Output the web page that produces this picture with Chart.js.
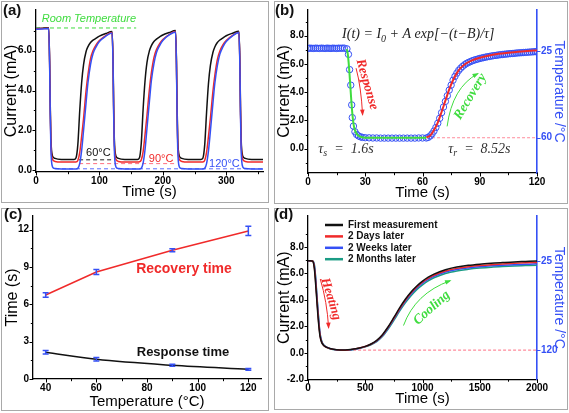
<!DOCTYPE html>
<html>
<head>
<meta charset="utf-8">
<title>Figure</title>
<script src="https://cdn.jsdelivr.net/npm/chart.js@4.4.1/dist/chart.umd.min.js"></script>
<style>
  html, body { margin: 0; padding: 0; background: #fff; }
  #fig { position: relative; width: 569px; height: 413px; overflow: hidden; }
  .frame { position: absolute; box-sizing: border-box; border: 1px solid #a9a9a9; }
  canvas { position: absolute; }
  .tag { position: absolute; font: bold 15px/15px "Liberation Sans", Arial, sans-serif; color: #111; }
</style>
</head>
<body>
<div id="fig">
  <div class="frame" style="left:1px;top:1px;width:268px;height:202px"></div>
  <div class="frame" style="left:274px;top:1px;width:294px;height:203px"></div>
  <div class="frame" style="left:1px;top:208px;width:268px;height:203px"></div>
  <div class="frame" style="left:274px;top:208px;width:294px;height:202px"></div>
  <canvas id="chartA" width="270" height="206" style="left:0;top:0"></canvas>
  <canvas id="chartB" width="297" height="206" style="left:272px;top:0"></canvas>
  <canvas id="chartC" width="270" height="207" style="left:0;top:206px"></canvas>
  <canvas id="chartD" width="297" height="207" style="left:272px;top:206px"></canvas>
  <div class="tag" style="left:3px;top:2px">(a)</div>
  <div class="tag" style="left:275px;top:2px">(b)</div>
  <div class="tag" style="left:4px;top:206px">(c)</div>
  <div class="tag" style="left:274px;top:206px">(d)</div>
</div>
<script>
// ---------- panel (a): three heating cycles ----------
const aTime = [0, 10, 20, 21.5, 22.5, 23.5, 24.5, 26, 30, 40, 50,
  60, 63, 66, 69, 72, 75, 79, 82, 86, 90, 95, 100, 110, 120,
  121.5, 122.5, 123.5, 124.5, 126, 130, 140, 150,
  160, 163, 166, 169, 172, 175, 179, 182, 186, 190, 195, 200, 210, 220,
  221.5, 222.5, 223.5, 224.5, 226, 230, 240, 250,
  260, 263, 266, 269, 272, 275, 279, 282, 286, 290, 295, 300, 310, 320,
  321.5, 322.5, 323.5, 324.5, 326, 330, 340, 350, 358];
const aI60 = [7.1, 7.12, 7.14, 5.5, 3.2, 1.6, 1.0, 0.72, 0.6, 0.55, 0.55,
  0.55, 0.62, 1.3, 3.0, 4.4, 5.3, 5.95, 6.2, 6.4, 6.52, 6.62, 6.72, 6.85, 6.95,
  5.5, 3.2, 1.6, 1.0, 0.72, 0.6, 0.55, 0.55,
  0.55, 0.62, 1.35, 3.1, 4.5, 5.4, 6.0, 6.25, 6.45, 6.57, 6.68, 6.78, 6.9, 7.0,
  5.5, 3.2, 1.6, 1.0, 0.72, 0.6, 0.55, 0.55,
  0.55, 0.6, 1.25, 2.9, 4.35, 5.25, 5.9, 6.18, 6.4, 6.53, 6.64, 6.74, 6.87, 6.97,
  5.5, 3.2, 1.6, 1.0, 0.72, 0.6, 0.55, 0.55, 0.55];
const aI90 = [7.08, 7.1, 7.12, 5.4, 3.0, 1.4, 0.8, 0.55, 0.45, 0.42, 0.42,
  0.42, 0.42, 0.5, 0.9, 1.7, 2.6, 4.0, 4.8, 5.6, 6.0, 6.3, 6.5, 6.75, 6.9,
  5.4, 3.0, 1.4, 0.8, 0.55, 0.45, 0.42, 0.42,
  0.42, 0.43, 0.52, 0.95, 1.8, 2.75, 4.1, 4.9, 5.65, 6.05, 6.35, 6.55, 6.8, 6.95,
  5.4, 3.0, 1.4, 0.8, 0.55, 0.45, 0.42, 0.42,
  0.42, 0.42, 0.5, 0.9, 1.7, 2.6, 3.95, 4.75, 5.55, 5.98, 6.3, 6.5, 6.76, 6.92,
  5.4, 3.0, 1.4, 0.8, 0.55, 0.45, 0.42, 0.42, 0.42];
const aI120 = [7.06, 7.08, 7.1, 5.3, 2.8, 1.1, 0.45, 0.18, 0.09, 0.07, 0.07,
  0.07, 0.07, 0.1, 0.35, 1.0, 2.0, 3.4, 4.4, 5.3, 5.85, 6.2, 6.45, 6.72, 6.88,
  5.3, 2.8, 1.1, 0.45, 0.18, 0.09, 0.07, 0.07,
  0.07, 0.07, 0.11, 0.38, 1.05, 2.1, 3.5, 4.5, 5.35, 5.9, 6.25, 6.5, 6.78, 6.93,
  5.3, 2.8, 1.1, 0.45, 0.18, 0.09, 0.07, 0.07,
  0.07, 0.07, 0.1, 0.34, 0.98, 1.95, 3.35, 4.35, 5.25, 5.82, 6.2, 6.45, 6.74, 6.9,
  5.3, 2.8, 1.1, 0.45, 0.18, 0.09, 0.07, 0.07, 0.07];
const aRoomT = [0, 158], aRoomI = [7.13, 7.13];
const a60T = [68, 123], a60I = [0.53, 0.53];
const a90T = [68, 221], a90I = [0.34, 0.34];
const a120T = [30, 358], a120I = [0.08, 0.08];
const aXMajor = [0, 100, 200, 300], aXLabels = ['0', '100', '200', '300'], aXMinor = [50, 150, 250, 350];
const aYMajor = [0, 2, 4, 6], aYLabels = ['0.0', '2.0', '4.0', '6.0'], aYMinor = [1, 3, 5, 7];

// ---------- panel (b): single cycle with fits ----------
const bCircT = [0, 1, 2, 3, 4, 5, 6, 7, 8, 9, 10, 11, 12, 13, 14, 15, 16, 17, 18, 19,
  20.4, 21.2, 21.8, 22.4, 22.9, 23.2, 23.8, 24.6, 25.5, 26.5, 27.5, 28.5,
  30, 32, 34, 36, 38, 40, 42, 44, 46, 48, 50, 52, 54, 56, 58, 60,
  62, 63, 64, 65, 66, 67, 68, 69, 70, 71, 72, 73, 74, 75, 76, 77, 78, 79, 80,
  81, 82, 83, 84, 85, 86, 87, 88, 89, 90, 91, 92, 93, 94, 95, 96, 97, 98, 99, 100,
  101, 102, 103, 104, 105, 106, 107, 108, 109, 110, 111, 112, 113, 114, 115, 116, 117, 118, 119, 120];
const bCircI = [7.1, 7.12, 7.11, 7.1, 7.12, 7.11, 7.1, 7.12, 7.11, 7.1, 7.12, 7.11, 7.1, 7.12, 7.11, 7.1, 7.12, 7.11, 7.12, 7.12,
  7.07, 6.68, 5.6, 4.5, 3.1, 2.2, 1.6, 1.2, 1.0, 0.9, 0.84, 0.8,
  0.78, 0.77, 0.76, 0.76, 0.75, 0.75, 0.75, 0.75, 0.75, 0.75, 0.75, 0.75, 0.75, 0.75, 0.76, 0.76,
  0.76, 0.8, 0.9, 1.05, 1.25, 1.5, 1.8, 2.15, 2.55, 2.95, 3.35, 3.75, 4.15, 4.5, 4.85, 5.12, 5.35, 5.55, 5.7,
  5.83, 5.94, 6.03, 6.1, 6.16, 6.22, 6.27, 6.31, 6.35, 6.39, 6.42, 6.45, 6.48, 6.51, 6.53, 6.56, 6.58, 6.6, 6.62, 6.64,
  6.66, 6.67, 6.69, 6.7, 6.72, 6.73, 6.74, 6.75, 6.77, 6.78, 6.79, 6.8, 6.81, 6.82, 6.83, 6.84, 6.85, 6.86, 6.87, 6.88];
const bFallT = [20.3, 20.8, 21.3, 21.8, 22.3, 22.8, 23.3, 23.8, 24.5, 25.5, 27, 29, 32, 40, 50, 62];
const bFallI = [7.05, 6.75, 6.1, 5.2, 4.2, 3.2, 2.4, 1.8, 1.35, 1.05, 0.88, 0.8, 0.78, 0.77, 0.77, 0.78];
const bRiseT = [62, 64, 66, 68, 70, 72, 74, 76, 78, 80, 83, 86, 90, 95, 100, 105, 110, 115, 120];
const bRiseI = [0.8, 0.92, 1.3, 1.85, 2.6, 3.4, 4.2, 4.85, 5.35, 5.72, 6.05, 6.25, 6.44, 6.6, 6.72, 6.8, 6.87, 6.92, 6.96];
const bTempT = [65, 120], bTemp = [60, 60];
const bXMajor = [0, 30, 60, 90, 120], bXLabels = ['0', '30', '60', '90', '120'], bXMinor = [15, 45, 75, 105];
const bYMajor = [0, 2, 4, 6, 8], bYLabels = ['0.0', '2.0', '4.0', '6.0', '8.0'], bYMinor = [-1, 1, 3, 5, 7, 9];
const bTMajor = [25, 60], bTLabels = ['25', '60'];

// ---------- panel (c): response / recovery time ----------
const cTemp = [40, 60, 90, 120];
const cRecovery = [6.75, 8.6, 10.35, 11.9], cRecoveryErr = [0.18, 0.2, 0.12, 0.37];
const cResponse = [2.15, 1.58, 1.1, 0.78], cResponseErr = [0.15, 0.14, 0.08, 0.07];
const cXMajor = [40, 60, 80, 100, 120], cXLabels = ['40', '60', '80', '100', '120'], cXMinor = [50, 70, 90, 110];
const cYMajor = [0, 3, 6, 9, 12], cYLabels = ['0', '3', '6', '9', '12'], cYMinor = [1.5, 4.5, 7.5, 10.5];

// ---------- panel (d): repeatability ----------
const dTime = [0, 20, 40, 55, 65, 75, 85, 95, 105, 120, 140, 170, 200, 250, 300, 350, 400, 450, 500, 550,
  600, 650, 700, 750, 800, 850, 900, 950, 1000, 1050, 1100, 1200, 1300, 1400, 1500, 1600, 1700, 1800, 1900, 2000];
const dFirst = [6.95, 6.96, 6.92, 6.4, 5.4, 4.2, 3.0, 2.0, 1.25, 0.78, 0.55, 0.4, 0.32, 0.25, 0.22, 0.24, 0.3, 0.38, 0.5, 0.68,
  0.95, 1.38, 1.98, 2.68, 3.4, 4.05, 4.6, 5.05, 5.42, 5.72, 5.95, 6.28, 6.48, 6.61, 6.7, 6.77, 6.83, 6.87, 6.9, 6.93];
const dDays = [6.95, 6.96, 6.94, 6.5, 5.6, 4.4, 3.2, 2.15, 1.35, 0.8, 0.55, 0.4, 0.31, 0.24, 0.21, 0.23, 0.29, 0.37, 0.49, 0.66,
  0.92, 1.34, 1.93, 2.62, 3.33, 3.98, 4.53, 4.98, 5.34, 5.63, 5.86, 6.18, 6.38, 6.5, 6.59, 6.66, 6.71, 6.76, 6.8, 6.83];
const dWeeks = [6.93, 6.95, 6.94, 6.6, 5.8, 4.6, 3.4, 2.3, 1.45, 0.85, 0.57, 0.41, 0.31, 0.24, 0.21, 0.23, 0.28, 0.36, 0.48, 0.65,
  0.9, 1.3, 1.88, 2.56, 3.26, 3.9, 4.45, 4.9, 5.26, 5.55, 5.78, 6.1, 6.29, 6.41, 6.5, 6.57, 6.62, 6.66, 6.69, 6.72];
const dMonths = [6.92, 6.94, 6.93, 6.7, 5.9, 4.7, 3.5, 2.4, 1.5, 0.88, 0.58, 0.41, 0.3, 0.23, 0.2, 0.22, 0.27, 0.35, 0.46, 0.62,
  0.86, 1.24, 1.8, 2.46, 3.15, 3.78, 4.32, 4.78, 5.14, 5.44, 5.67, 6.0, 6.19, 6.31, 6.4, 6.47, 6.52, 6.56, 6.59, 6.62];
const dTempT = [350, 2000], dTemp = [120, 120];
const dXMajor = [0, 500, 1000, 1500, 2000], dXLabels = ['0', '500', '1000', '1500', '2000'], dXMinor = [250, 750, 1250, 1750];
const dYMajor = [-2, 0, 2, 4, 6, 8], dYLabels = ['-2.0', '0.0', '2.0', '4.0', '6.0', '8.0'], dYMinor = [-1, 1, 3, 5, 7, 9];
const dTMajor = [25, 120], dTLabels = ['25', '120'];

// ---------- styling helpers ----------
const SANS = '"Liberation Sans", Arial, sans-serif';
const SERIF = '"Liberation Serif", "Times New Roman", serif';
const BLUE = '#3550f5', RED = '#f02a2a', GREEN = '#3fdc3f', TEAL = '#1b9c85', PINK = '#ff8c9c';

Chart.defaults.font.family = SANS;
Chart.defaults.color = '#000';

const xy = (xs, ys) => xs.map((x, i) => ({ x, y: ys[i] }));

function line(label, data, color, extra) {
  return Object.assign({
    label, data, borderColor: color, backgroundColor: color, borderWidth: 1.5,
    pointRadius: 0, tension: 0.4, cubicInterpolationMode: 'monotone', fill: false
  }, extra || {});
}

function axis(o) {
  const color = o.color || '#000';
  return {
    type: 'linear', position: o.pos, min: o.min, max: o.max, reverse: !!o.reverse,
    grid: { display: false, drawTicks: false },
    border: { display: true, color, width: o.bw || 1.3 },
    afterFit: s => { if (s.isHorizontal()) s.height = o.size; else s.width = o.size; },
    afterBuildTicks: s => { s.ticks = o.major.map(v => ({ value: v })); },
    ticks: {
      autoSkip: false, maxRotation: 0, padding: o.pad, color,
      font: { size: 10, weight: 'bold' }, callback: (v, i) => o.labels[i]
    },
    title: { display: true, text: o.title, color, font: { size: o.tsize || 15 }, padding: o.tpad }
  };
}

// short outward tick marks, major and minor
function tickMarks(specs) {
  return {
    id: 'tickMarks',
    afterDraw(chart) {
      const ctx = chart.ctx;
      ctx.save();
      specs.forEach(sp => {
        const s = chart.scales[sp.id];
        ctx.strokeStyle = sp.color || '#000';
        ctx.lineWidth = 1;
        [[sp.major, 3.5], [sp.minor || [], 2.2]].forEach(([vals, len]) => {
          vals.forEach(v => {
            const p = Math.round(s.getPixelForValue(v)) + 0.5;
            ctx.beginPath();
            if (s.position === 'bottom') { ctx.moveTo(p, s.top); ctx.lineTo(p, s.top + len); }
            else if (s.position === 'left') { ctx.moveTo(s.right, p); ctx.lineTo(s.right - len, p); }
            else { ctx.moveTo(s.left, p); ctx.lineTo(s.left + len, p); }
            ctx.stroke();
          });
        });
      });
      ctx.restore();
    }
  };
}

function P(chart, x, y, yid) {
  return [chart.scales.x.getPixelForValue(x), chart.scales[yid || 'y'].getPixelForValue(y)];
}

function label(ctx, str, p, font, color, deg, align, base) {
  ctx.save();
  ctx.translate(p[0], p[1]);
  ctx.rotate((deg || 0) * Math.PI / 180);
  ctx.font = font; ctx.fillStyle = color;
  ctx.textAlign = align || 'center'; ctx.textBaseline = base || 'middle';
  ctx.fillText(str, 0, 0);
  ctx.restore();
}

function runs(ctx, parts, p, color, align) {
  ctx.save();
  ctx.fillStyle = color; ctx.textBaseline = 'alphabetic'; ctx.textAlign = 'left';
  let w = 0;
  parts.forEach(r => { ctx.font = r[1]; w += ctx.measureText(r[0]).width; });
  let x = align === 'center' ? p[0] - w / 2 : p[0];
  parts.forEach(r => { ctx.font = r[1]; ctx.fillText(r[0], x, p[1] + (r[2] || 0)); x += ctx.measureText(r[0]).width; });
  ctx.restore();
}

function arrow(ctx, a, c, b, color) {
  ctx.save();
  ctx.strokeStyle = color; ctx.fillStyle = color; ctx.lineWidth = 1;
  ctx.beginPath(); ctx.moveTo(a[0], a[1]); ctx.quadraticCurveTo(c[0], c[1], b[0], b[1]); ctx.stroke();
  ctx.translate(b[0], b[1]);
  ctx.rotate(Math.atan2(b[1] - c[1], b[0] - c[0]));
  ctx.beginPath(); ctx.moveTo(1.5, 0); ctx.lineTo(-5, -2.3); ctx.lineTo(-5, 2.3); ctx.closePath(); ctx.fill();
  ctx.restore();
}

function baseOptions(padding, scales) {
  return {
    responsive: false, animation: false, events: [], devicePixelRatio: 1,
    layout: { padding },
    plugins: { legend: { display: false }, tooltip: { enabled: false } },
    scales
  };
}

// ---------- chart (a) ----------
new Chart(document.getElementById('chartA'), {
  type: 'line',
  data: {
    datasets: [
      line('120°C', xy(aTime, aI120), BLUE),
      line('90°C', xy(aTime, aI90), RED),
      line('60°C', xy(aTime, aI60), '#111'),
      line('room', xy(aRoomT, aRoomI), GREEN, { borderWidth: 1, borderDash: [4, 3] }),
      line('d60', xy(a60T, a60I), '#222', { borderWidth: 1, borderDash: [4, 3] }),
      line('d90', xy(a90T, a90I), '#ff7080', { borderWidth: 1, borderDash: [4, 3] }),
      line('d120', xy(a120T, a120I), '#5a6cff', { borderWidth: 1, borderDash: [4, 3] })
    ]
  },
  options: baseOptions({ left: 0, top: 5, right: 7, bottom: 0 }, {
    x: axis({ pos: 'bottom', min: 0, max: 358, size: 34, major: aXMajor, labels: aXLabels, pad: 3, title: 'Time (s)', tpad: 5 }),
    y: axis({ pos: 'left', min: -0.08, max: 8.03, size: 36, major: aYMajor, labels: aYLabels, pad: 4, title: 'Current (mA)', tsize: 16, tpad: 2 })
  }),
  plugins: [
    tickMarks([{ id: 'x', major: aXMajor, minor: aXMinor }, { id: 'y', major: aYMajor, minor: aYMinor }]),
    {
      id: 'notesA',
      afterDatasetsDraw(chart) {
        const ctx = chart.ctx;
        label(ctx, 'Room Temperature', P(chart, 9, 7.44), 'italic 11px ' + SANS, GREEN, 0, 'left', 'alphabetic');
        label(ctx, '60°C', P(chart, 79, 0.71), '11px ' + SANS, '#111', 0, 'left', 'alphabetic');
        label(ctx, '90°C', P(chart, 178, 0.42), '11px ' + SANS, RED, 0, 'left', 'alphabetic');
        label(ctx, '120°C', P(chart, 273, 0.17), '11px ' + SANS, BLUE, 0, 'left', 'alphabetic');
      }
    }
  ]
});

// ---------- chart (b) ----------
new Chart(document.getElementById('chartB'), {
  type: 'line',
  data: {
    datasets: [
      line('fit response', xy(bFallT, bFallI), GREEN, { borderWidth: 2 }),
      line('fit recovery', xy(bRiseT, bRiseI), RED, { borderWidth: 2 }),
      line('measured', xy(bCircT, bCircI), BLUE, {
        showLine: false, pointRadius: 3.2, pointBorderWidth: 1,
        pointBackgroundColor: 'rgba(255,255,255,0)', pointBorderColor: BLUE
      }),
      line('temperature', xy(bTempT, bTemp), PINK, { yAxisID: 'y2', borderWidth: 1, borderDash: [3, 2] })
    ]
  },
  options: baseOptions({ left: 0, top: 5, right: 0, bottom: 0 }, {
    x: axis({ pos: 'bottom', min: 0, max: 120, size: 33, major: bXMajor, labels: bXLabels, pad: 3, title: 'Time (s)', tpad: 4.3 }),
    y: axis({ pos: 'left', min: -1.72, max: 9.82, size: 36, major: bYMajor, labels: bYLabels, pad: 4, title: 'Current (mA)', tsize: 16, tpad: 2.5 }),
    y2: axis({ pos: 'right', min: 8.2, max: 74.3, reverse: true, size: 32, major: bTMajor, labels: bTLabels, pad: 4,
      color: BLUE, bw: 1.6, title: 'Temperature /°C', tsize: 14, tpad: 2 })
  }),
  plugins: [
    tickMarks([{ id: 'x', major: bXMajor, minor: bXMinor }, { id: 'y', major: bYMajor, minor: bYMinor },
      { id: 'y2', major: bTMajor, color: BLUE }]),
    {
      id: 'notesB',
      afterDatasetsDraw(chart) {
        const ctx = chart.ctx;
        const f = 'italic 14px ' + SERIF, fs = 'italic 10px ' + SERIF;
        runs(ctx, [['I(t) = I', f], ['0', fs, 4], [' + A exp[−(t−B)/τ]', f]], P(chart, 57.8, 7.86), '#222', 'center');
        runs(ctx, [['τ', f], ['s', fs, 3], ['  =  1.6s', f]], P(chart, 5.4, -0.3), '#333', 'left');
        runs(ctx, [['τ', f], ['r', fs, 3], ['  =  8.52s', f]], P(chart, 73.5, -0.3), '#333', 'left');
        arrow(ctx, P(chart, 25.2, 5.7), P(chart, 27.8, 4.4), P(chart, 28.6, 2.42), RED);
        arrow(ctx, P(chart, 72.9, 1.58), P(chart, 75.6, 4.33), P(chart, 88.9, 5.31), GREEN);
        label(ctx, 'Response', P(chart, 30.9, 4.55), 'italic bold 13.5px ' + SERIF, RED, 74);
        label(ctx, 'Recovery', P(chart, 85.1, 3.69), 'italic bold 13.5px ' + SERIF, GREEN, -59);
      }
    }
  ]
});

// ---------- chart (c) ----------
new Chart(document.getElementById('chartC'), {
  type: 'line',
  data: {
    datasets: [
      line('Recovery time', xy(cTemp, cRecovery), RED, { tension: 0, cubicInterpolationMode: 'default' }),
      line('Response time', xy(cTemp, cResponse), '#111')
    ]
  },
  options: baseOptions({ left: 0, top: 6, right: 9, bottom: 0 }, {
    x: axis({ pos: 'bottom', min: 35, max: 125, size: 34, major: cXMajor, labels: cXLabels, pad: 3, title: 'Temperature (°C)', tsize: 15, tpad: 2 }),
    y: axis({ pos: 'left', min: 0, max: 13.1, size: 33, major: cYMajor, labels: cYLabels, pad: 4, title: 'Time (s)', tsize: 16, tpad: 3 })
  }),
  plugins: [
    tickMarks([{ id: 'x', major: cXMajor, minor: cXMinor }, { id: 'y', major: cYMajor, minor: cYMinor }]),
    {
      id: 'errorBars',
      afterDatasetsDraw(chart) {
        const { ctx, scales: { x, y } } = chart;
        ctx.save();
        ctx.strokeStyle = BLUE; ctx.lineWidth = 1.5;
        [[cRecovery, cRecoveryErr], [cResponse, cResponseErr]].forEach(([vals, errs]) => {
          cTemp.forEach((t, i) => {
            const px = x.getPixelForValue(t);
            const hi = y.getPixelForValue(vals[i] + errs[i]);
            const lo = y.getPixelForValue(vals[i] - errs[i]);
            ctx.beginPath();
            ctx.moveTo(px, hi); ctx.lineTo(px, lo);
            ctx.moveTo(px - 3, hi); ctx.lineTo(px + 3, hi);
            ctx.moveTo(px - 3, lo); ctx.lineTo(px + 3, lo);
            ctx.stroke();
          });
        });
        ctx.restore();
        label(ctx, 'Recovery time', P(chart, 94.6, 8.8), 'bold 14px ' + SANS, RED);
        label(ctx, 'Response time', P(chart, 94.2, 2.14), 'bold 13px ' + SANS, '#111');
      }
    }
  ]
});

// ---------- chart (d) ----------
new Chart(document.getElementById('chartD'), {
  type: 'line',
  data: {
    datasets: [
      line('First measurement', xy(dTime, dFirst), '#111'),
      line('2 Days later', xy(dTime, dDays), RED),
      line('2 Weeks later', xy(dTime, dWeeks), BLUE),
      line('2 Months later', xy(dTime, dMonths), TEAL),
      line('', xy(dTempT, dTemp), PINK, { yAxisID: 'y2', borderWidth: 1.2, borderDash: [3, 2] })
    ]
  },
  options: baseOptions({ left: 0, top: 4, right: 0, bottom: 0 }, {
    x: axis({ pos: 'bottom', min: 0, max: 2000, size: 33.5, major: dXMajor, labels: dXLabels, pad: 3, title: 'Time (s)', tpad: 4.7 }),
    y: axis({ pos: 'left', min: -2, max: 10.33, size: 36, major: dYMajor, labels: dYLabels, pad: 4, title: 'Current (mA)', tsize: 16, tpad: 2.5 }),
    y2: axis({ pos: 'right', min: -23.07, max: 151.4, reverse: true, size: 32, major: dTMajor, labels: dTLabels, pad: 4,
      color: BLUE, bw: 1.6, title: 'Temperature /°C', tsize: 14, tpad: 2 })
  }),
  plugins: [
    tickMarks([{ id: 'x', major: dXMajor, minor: dXMinor }, { id: 'y', major: dYMajor, minor: dYMinor },
      { id: 'y2', major: dTMajor, color: BLUE }]),
    {
      id: 'notesD',
      afterDatasetsDraw(chart) {
        const { ctx, chartArea } = chart;
        ctx.save();
        ctx.font = 'bold 10px ' + SANS;
        ctx.textBaseline = 'middle';
        chart.data.datasets.filter(d => d.label).forEach((d, i) => {
          const yy = chartArea.top + 9 + i * 11.4;
          ctx.strokeStyle = d.borderColor; ctx.lineWidth = 2.5;
          ctx.beginPath(); ctx.moveTo(chartArea.left + 17, yy); ctx.lineTo(chartArea.left + 35, yy); ctx.stroke();
          ctx.fillStyle = '#111';
          ctx.fillText(d.label, chartArea.left + 40, yy);
        });
        ctx.restore();
        arrow(ctx, P(chart, 107, 5.58), P(chart, 166, 3.88), P(chart, 180, 1.92), RED);
        arrow(ctx, P(chart, 834, 2.07), P(chart, 936, 4.49), P(chart, 1241, 5.45), GREEN);
        label(ctx, 'Heating', P(chart, 200, 4.07), 'italic bold 13px ' + SERIF, RED, 73);
        label(ctx, 'Cooling', P(chart, 1081, 3.4), 'italic bold 13.5px ' + SERIF, GREEN, -42);
      }
    }
  ]
});
</script>
</body>
</html>
